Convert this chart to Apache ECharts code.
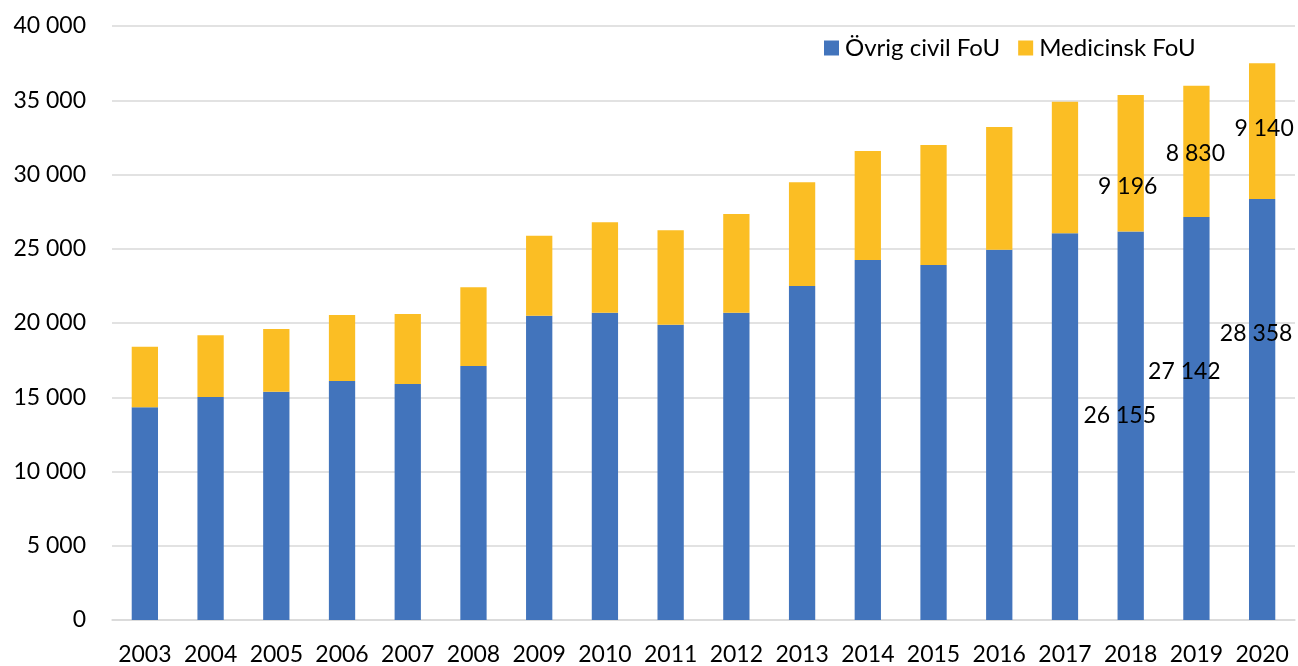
<!DOCTYPE html>
<html>
<head>
<meta charset="utf-8">
<script src="https://cdn.jsdelivr.net/npm/echarts@6/dist/echarts.min.js"></script>
<style>
  html, body { margin: 0; padding: 0; background: #fff; }
  #chart { width: 1298px; height: 666px; }
</style>
</head>
<body>
<div id="chart"></div>
<script>
// years on the x axis
const years = ['2003', '2004', '2005', '2006', '2007', '2008', '2009', '2010', '2011',
  '2012', '2013', '2014', '2015', '2016', '2017', '2018', '2019', '2020'];
// Övrig civil FoU (blue)
const ovrigCivil = [14320, 15020, 15370, 16090, 15890, 17100, 20490, 20690, 19890,
  20690, 22490, 24240, 23910, 24940, 26040, 26155, 27142, 28358];
// Medicinsk FoU (yellow)
const medicinsk = [4080, 4150, 4230, 4450, 4720, 5300, 5390, 6090, 6350,
  6650, 6980, 7340, 8080, 8260, 8860, 9196, 8830, 9140];
// y axis ticks
const yTicks = [0, 5000, 10000, 15000, 20000, 25000, 30000, 35000, 40000];

// only the last three years carry value labels (placed by hand in the original)
const labelFrom = 15;
const blueLabelOffsets = [[-11, -10], [-12, -47], [-6, -76]];
const yellowLabelOffsets = [[-3, 23], [-1, 2], [2, -2]];

const fmt = v => String(v).replace(/\B(?=(\d{3})+(?!\d))/g, ' ');
const font = 'Lato, "Open Sans", sans-serif';
const fs = 23;

function withLabels(values, offsets) {
  return values.map((v, i) => {
    if (i < labelFrom) return v;
    return { value: v, label: { show: true, offset: offsets[i - labelFrom] } };
  });
}

const chart = echarts.init(document.getElementById('chart'));
chart.setOption({
  animation: false,
  textStyle: { fontFamily: font },
  grid: { left: 112, right: 3, top: 26, bottom: 46 },
  legend: {
    data: ['Övrig civil FoU', 'Medicinsk FoU'],
    left: 819,
    top: 31,
    itemWidth: 15,
    itemHeight: 15,
    itemGap: 18,
    icon: 'rect',
    textStyle: { fontSize: 24, color: '#000', fontFamily: font, padding: [0, 0, 0, 1] }
  },
  xAxis: {
    type: 'category',
    data: years,
    axisLine: { show: true, lineStyle: { color: '#d9d9d9', width: 1.5 } },
    axisTick: { show: false },
    axisLabel: { interval: 0, fontSize: fs, color: '#000', margin: 23, fontFamily: font }
  },
  yAxis: {
    type: 'value',
    min: yTicks[0],
    max: yTicks[yTicks.length - 1],
    interval: 5000,
    axisLine: { show: false },
    axisTick: { show: false },
    splitLine: { lineStyle: { color: '#d9d9d9', width: 1.5 } },
    axisLabel: { fontSize: fs, color: '#000', margin: 26, fontFamily: font, formatter: fmt }
  },
  series: [
    {
      name: 'Övrig civil FoU',
      type: 'bar',
      stack: 'total',
      barWidth: '40%',
      itemStyle: { color: '#4274BC' },
      label: { show: false, position: 'inside', fontSize: fs, color: '#000', fontFamily: font,
        formatter: p => fmt(p.value) },
      data: withLabels(ovrigCivil, blueLabelOffsets)
    },
    {
      name: 'Medicinsk FoU',
      type: 'bar',
      stack: 'total',
      barWidth: '40%',
      itemStyle: { color: '#FBBE24' },
      label: { show: false, position: 'inside', fontSize: fs, color: '#000', fontFamily: font,
        formatter: p => fmt(p.value) },
      data: withLabels(medicinsk, yellowLabelOffsets)
    }
  ]
});
</script>
</body>
</html>
